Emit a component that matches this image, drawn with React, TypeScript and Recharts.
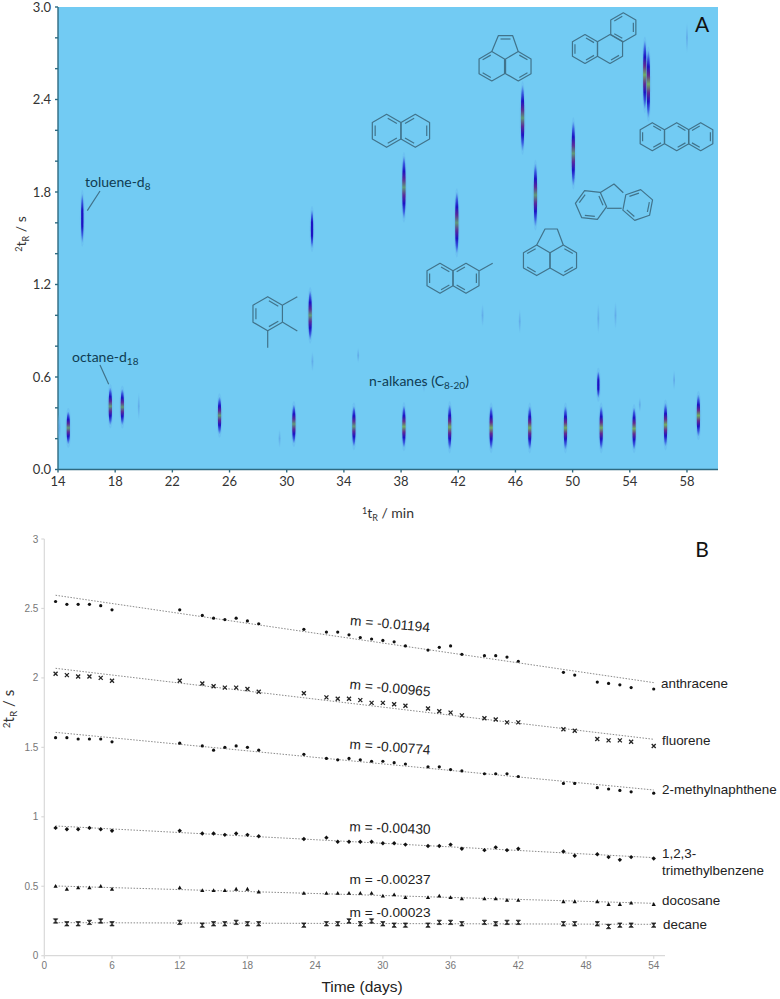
import React from "react";
import { ScatterChart, Scatter, XAxis, YAxis, CartesianGrid } from "recharts";

// panel A: GCxGC peaks (first dimension min, second dimension s, vertical extent s, colour level)
const peakFirst = [14.1, 14.72, 15.7, 17.66, 18.5, 19.65, 25.3, 30.5, 31.64, 31.77, 34.7, 38.2, 38.2, 41.4, 41.9, 44.3, 46.5, 47, 47.4, 49.5, 50.05, 51.8, 52, 54.3, 55.05, 55.3, 56.5, 58.8, 29.5, 31.8, 35, 46.3, 53, 51.8, 57.1, 54.7, 58, 43.7, 39.6];
const peakSecond = [0.27, 0.27, 1.63, 0.41, 0.405, 0.41, 0.35, 0.295, 1.0, 1.56, 0.28, 1.83, 0.278, 0.275, 1.6, 0.27, 2.28, 0.27, 1.78, 0.27, 2.05, 0.55, 0.27, 0.265, 2.56, 2.5, 0.29, 0.35, 0.2, 0.7, 0.74, 0.96, 1.0, 0.98, 0.58, 0.42, 2.8, 1.0, 0.55];
const peakSpan = [0.2, 0.22, 0.33, 0.25, 0.24, 0.18, 0.25, 0.26, 0.33, 0.26, 0.27, 0.42, 0.28, 0.3, 0.41, 0.29, 0.44, 0.29, 0.42, 0.29, 0.43, 0.18, 0.29, 0.28, 0.46, 0.45, 0.29, 0.28, 0.12, 0.13, 0.1, 0.16, 0.18, 0.2, 0.13, 0.1, 0.2, 0.15, 0.1];
const peakLevel = [0, 2, 1, 2, 2, 0, 2, 2, 2, 1, 2, 2, 3, 3, 2, 3, 2, 3, 2, 3, 2, 1, 3, 3, 3, 3, 3, 3, 0, 0, 0, 0, 0, 0, 0, 0, 0, 0, 0];

const firstTicks = [14, 18, 22, 26, 30, 34, 38, 42, 46, 50, 54, 58];
const secondTicks = [0, 0.2, 0.4, 0.6, 0.8, 1, 1.2, 1.4, 1.6, 1.8, 2, 2.2, 2.4, 2.6, 2.8, 3];

// panel B: retention drift over time
const days = [1, 2, 3, 4, 5, 6, 12, 14, 15, 16, 17, 18, 19, 23, 25, 26, 27, 28, 29, 30, 31, 32, 34, 35, 36, 37, 39, 40, 41, 42, 46, 47, 49, 50, 51, 52, 54];
const anthracene = [2.55, 2.53, 2.53, 2.53, 2.52, 2.49, 2.49, 2.45, 2.43, 2.42, 2.43, 2.41, 2.39, 2.35, 2.33, 2.33, 2.31, 2.29, 2.28, 2.27, 2.26, 2.23, 2.2, 2.22, 2.23, 2.17, 2.16, 2.16, 2.15, 2.12, 2.04, 2.02, 1.97, 1.96, 1.95, 1.93, 1.92];
const fluorene = [2.03, 2.02, 2.01, 2.01, 2.0, 1.98, 1.98, 1.96, 1.94, 1.93, 1.93, 1.92, 1.9, 1.89, 1.86, 1.85, 1.85, 1.84, 1.82, 1.82, 1.81, 1.8, 1.78, 1.76, 1.75, 1.73, 1.71, 1.7, 1.68, 1.68, 1.63, 1.62, 1.56, 1.55, 1.55, 1.54, 1.51];
const methylnaphthene = [1.57, 1.57, 1.56, 1.56, 1.56, 1.54, 1.53, 1.51, 1.48, 1.5, 1.51, 1.5, 1.48, 1.45, 1.42, 1.41, 1.42, 1.41, 1.4, 1.4, 1.39, 1.38, 1.36, 1.36, 1.34, 1.33, 1.31, 1.31, 1.31, 1.29, 1.24, 1.24, 1.21, 1.2, 1.19, 1.18, 1.17];
const trimethylbenzene = [0.92, 0.91, 0.91, 0.92, 0.91, 0.9, 0.9, 0.88, 0.88, 0.87, 0.88, 0.87, 0.86, 0.84, 0.85, 0.82, 0.82, 0.82, 0.82, 0.81, 0.81, 0.8, 0.79, 0.79, 0.8, 0.77, 0.76, 0.78, 0.76, 0.77, 0.75, 0.72, 0.73, 0.71, 0.69, 0.71, 0.7];
const docosane = [0.5, 0.48, 0.49, 0.49, 0.5, 0.48, 0.49, 0.47, 0.47, 0.47, 0.48, 0.48, 0.46, 0.45, 0.45, 0.45, 0.45, 0.45, 0.45, 0.43, 0.44, 0.42, 0.42, 0.43, 0.42, 0.41, 0.41, 0.41, 0.4, 0.4, 0.39, 0.39, 0.39, 0.37, 0.37, 0.38, 0.37];
const decane = [0.25, 0.23, 0.23, 0.24, 0.25, 0.23, 0.24, 0.22, 0.23, 0.23, 0.24, 0.23, 0.23, 0.22, 0.23, 0.23, 0.25, 0.23, 0.25, 0.23, 0.22, 0.22, 0.22, 0.24, 0.24, 0.23, 0.24, 0.23, 0.24, 0.24, 0.23, 0.23, 0.23, 0.21, 0.22, 0.22, 0.22];

const trendDays = [1, 54];
const anthraceneTrend = [2.595, 1.966];
const fluoreneTrend = [2.069, 1.558];
const methylTrend = [1.608, 1.193];
const trimethylTrend = [0.934, 0.706];
const docosaneTrend = [0.502, 0.377];
const decaneTrend = [0.238, 0.226];

const dayTicks = [0, 6, 12, 18, 24, 30, 36, 42, 48, 54];
const driftTicks = [0, 0.5, 1, 1.5, 2, 2.5, 3];

const peaks = peakFirst.map((x, i) => ({ x, y: peakSecond[i], span: peakSpan[i], level: peakLevel[i] }));
const toPoints = (values: number[]) => days.map((day, i) => ({ day, value: values[i] }));
const toTrend = (values: number[]) => trendDays.map((day, i) => ({ day, value: values[i] }));

const AXIS_A = "#2f6a80";
const BG_A = "#72cbf3";
const INK_A = "#0f3c52";
const STRUCT = "#41738b";
const GREY = "#d9d9d9";
const PX_PER_SECOND = 462.5 / 3;

const Peak = (props: any) => {
  const { cx, cy, payload } = props;
  const ry = (payload.span * PX_PER_SECOND) / 2;
  const rx = payload.level === 0 ? 0.9 : payload.level === 1 ? 1.2 : 1.7;
  return (
    <g style={{ filter: "blur(0.4px)" }}>
      {payload.level > 0 && <ellipse cx={cx} cy={cy} rx={rx + 1.2} ry={ry + 3} fill="#4f8fe8" opacity={0.16} />}
      <ellipse cx={cx} cy={cy} rx={rx} ry={ry} fill={`url(#peak${payload.level})`} />
    </g>
  );
};

const Dot = ({ cx, cy }: any) => <circle cx={cx} cy={cy} r={1.6} fill="#111" />;
const Cross = ({ cx, cy }: any) => (
  <path d={`M${cx - 2} ${cy - 2}L${cx + 2} ${cy + 2}M${cx + 2} ${cy - 2}L${cx - 2} ${cy + 2}`} stroke="#222" strokeWidth={1.3} fill="none" />
);
const Plus = ({ cx, cy }: any) => (
  <path d={`M${cx} ${cy - 2.2}L${cx + 2.2} ${cy}L${cx} ${cy + 2.2}L${cx - 2.2} ${cy}Z`} fill="#111" />
);
const Tri = ({ cx, cy }: any) => <path d={`M${cx} ${cy - 2.2}L${cx + 2.1} ${cy + 1.6}L${cx - 2.1} ${cy + 1.6}Z`} fill="#111" />;
const Bow = ({ cx, cy }: any) => (
  <path d={`M${cx - 2.2} ${cy - 2.2}H${cx + 2.2}L${cx - 2.2} ${cy + 2.2}H${cx + 2.2}Z`} fill="#222" stroke="#222" strokeWidth={0.7} />
);
const NoMark = () => <g />;

const hex = (cx: number, cy: number, r: number, start: number) =>
  [0, 1, 2, 3, 4, 5].map((i) => {
    const a = ((start + 60 * i) * Math.PI) / 180;
    return [cx + r * Math.cos(a), cy + r * Math.sin(a)];
  });

const Ring = ({ cx, cy, r, start = -90, doubles = [] }: any) => {
  const pts = hex(cx, cy, r, start);
  const inner = hex(cx, cy, r * 0.8, start);
  return (
    <g>
      <polygon points={pts.map((p) => p.join(",")).join(" ")} />
      {doubles.map((e: number) => {
        const a = inner[e];
        const b = inner[(e + 1) % 6];
        return <line key={e} x1={a[0] + (b[0] - a[0]) * 0.1} y1={a[1] + (b[1] - a[1]) * 0.1} x2={b[0] - (b[0] - a[0]) * 0.1} y2={b[1] - (b[1] - a[1]) * 0.1} />;
      })}
    </g>
  );
};

const rings = [
  // naphthalene
  { cx: 386.6, cy: 130.8, r: 16.5, doubles: [4, 0, 2] },
  { cx: 415.3, cy: 130.8, r: 16.5, doubles: [1, 3, 5] },
  // acenaphthylene
  { cx: 491.8, cy: 66.3, r: 14.7, doubles: [5, 3] },
  { cx: 518.3, cy: 66.3, r: 14.7, doubles: [0, 2] },
  // phenanthrene
  { cx: 585, cy: 49, r: 14.5, doubles: [4, 0, 2] },
  { cx: 610, cy: 49, r: 14.5, doubles: [2] },
  { cx: 623.3, cy: 27.3, r: 14.5, doubles: [5, 1, 3] },
  // anthracene
  { cx: 652.3, cy: 136.7, r: 14, doubles: [4, 0, 2] },
  { cx: 676.7, cy: 136.7, r: 14, doubles: [0, 2] },
  { cx: 700.7, cy: 136.7, r: 14, doubles: [1, 3, 5] },
  // fluorene
  { cx: 591, cy: 205, r: 15.7, start: -54, doubles: [0, 2, 4] },
  { cx: 637.7, cy: 205, r: 15.7, start: -19, doubles: [0, 2, 4] },
  // acenaphthene
  { cx: 536.7, cy: 260.3, r: 15.3, doubles: [5, 3] },
  { cx: 563.3, cy: 260.3, r: 15.3, doubles: [0, 2] },
  // 2-methylnaphthalene
  { cx: 440, cy: 278.3, r: 15, doubles: [4, 0, 2] },
  { cx: 466, cy: 278.3, r: 15, doubles: [1, 3, 5] },
  // 1,2,3-trimethylbenzene
  { cx: 267.7, cy: 313.7, r: 17, doubles: [4, 0, 2] },
];

const bonds = [
  "M491.7 51.7L498.3 35.7H512.7L518.3 51.7",
  "M500.5 39H510.5",
  "M600 192.7L614 184L623.3 192.7",
  "M606.7 208.3H621.7",
  "M536.7 245L545 229H557.3L563.3 245",
  "M479.3 270.7L492.7 263.3",
  "M282.7 305L297.3 296.7",
  "M282.7 322.3L297.3 331",
  "M267.7 330.7V347.7",
];

const slopes = [
  { text: "m = -0.01194", y: 625, rot: 5 },
  { text: "m = -0.00965", y: 689, rot: 5.5 },
  { text: "m = -0.00774", y: 748, rot: 4 },
  { text: "m = -0.00430", y: 829, rot: 2 },
  { text: "m = -0.00237", y: 880, rot: 0 },
  { text: "m = -0.00023", y: 913, rot: 0 },
];

const names = [
  { text: "anthracene", x: 661, y: 684 },
  { text: "fluorene", x: 662, y: 741 },
  { text: "2-methylnaphthene", x: 662, y: 790 },
  { text: "1,2,3-", x: 662, y: 854 },
  { text: "trimethylbenzene", x: 662, y: 871 },
  { text: "docosane", x: 662, y: 901 },
  { text: "decane", x: 663, y: 925 },
];

const gradStops = (core: string[]) => {
  const seq = ["#72cbf3", "#3a5fe0", "#1c12c4", ...core, "#1c12c4", "#3a5fe0", "#72cbf3"];
  return seq.map((c, i) => <stop key={i} offset={i / (seq.length - 1)} stopColor={c} />);
};

const Overlay = () => (
  <svg width={780} height={999} style={{ position: "absolute", left: 0, top: 0, pointerEvents: "none" }}>
    <defs>
      <linearGradient id="peak0" x1="0" y1="0" x2="0" y2="1">
        <stop offset="0" stopColor="#72cbf3" />
        <stop offset="0.5" stopColor="#62ace9" />
        <stop offset="1" stopColor="#72cbf3" />
      </linearGradient>
      <linearGradient id="peak1" x1="0" y1="0" x2="0" y2="1">{gradStops(["#1c12c4"])}</linearGradient>
      <linearGradient id="peak2" x1="0" y1="0" x2="0" y2="1">{gradStops(["#5a2a9a", "#5f9a78", "#5a2a9a"])}</linearGradient>
      <linearGradient id="peak3" x1="0" y1="0" x2="0" y2="1">{gradStops(["#642a90", "#6fae62", "#642a90"])}</linearGradient>
    </defs>

    <g fill="none" stroke={STRUCT} strokeWidth={1.2} strokeLinejoin="round">
      {rings.map((r, i) => <Ring key={i} {...r} />)}
      {bonds.map((d, i) => <path key={i} d={d} />)}
      <path d="M100 191L87.3 210.7M100 365L108.7 384.3" />
    </g>

    <g fontFamily="Lato" fontSize={14} fill={INK_A}>
      <text x={85} y={187}>toluene-d<tspan fontSize={10} dy={3}>8</tspan></text>
      <text x={72} y={362}>octane-d<tspan fontSize={10} dy={3}>18</tspan></text>
      <text x={369} y={386}>n-alkanes (C<tspan fontSize={10} dy={3}>8-20</tspan><tspan dy={-3}>)</tspan></text>
      <text x={702} y={32} fontSize={21} textAnchor="middle" fill="#111">A</text>
      <text x={702} y={557} fontSize={21} textAnchor="middle" fill="#111">B</text>
      <text x={388} y={518} textAnchor="middle" fill="#333" fontSize={14}>
        <tspan fontSize={9} dy={-4}>1</tspan><tspan dy={4}>t</tspan><tspan fontSize={9} dy={3}>R</tspan><tspan dy={-3}> / min</tspan>
      </text>
      <text transform="translate(26 234) rotate(-90)" textAnchor="middle" fill="#333" fontSize={14}>
        <tspan fontSize={9} dy={-4}>2</tspan><tspan dy={4}>t</tspan><tspan fontSize={9} dy={3}>R</tspan><tspan dy={-3}> / s</tspan>
      </text>
      <text transform="translate(14 709) rotate(-90)" textAnchor="middle" fill="#333" fontSize={15}>
        <tspan fontSize={10} dy={-4}>2</tspan><tspan dy={4}>t</tspan><tspan fontSize={10} dy={3}>R</tspan><tspan dy={-3}> / s</tspan>
      </text>
    </g>

    <g fontFamily="Liberation Sans" fill="#222">
      {slopes.map((s) => (
        <text key={s.text} x={390} y={s.y} fontSize={13.7} textAnchor="middle" dominantBaseline="middle" transform={`rotate(${s.rot} 390 ${s.y})`}>{s.text}</text>
      ))}
      {names.map((n) => (
        <text key={n.text} x={n.x} y={n.y} fontSize={13.4} dominantBaseline="middle">{n.text}</text>
      ))}
      <text x={362} y={992} fontSize={15.5} textAnchor="middle">Time (days)</text>
    </g>
  </svg>
);

const PanelA = () => (
  <ScatterChart width={780} height={530} margin={{ top: 7, right: 62, bottom: 0, left: 0 }} style={{ position: "absolute", left: 0, top: 0 }}>
    <CartesianGrid horizontal={false} vertical={false} fill={BG_A} stroke="none" />
    <XAxis
      type="number"
      dataKey="x"
      domain={[14, 60.17]}
      ticks={firstTicks}
      interval={0}
      height={60.5}
      stroke={AXIS_A}
      strokeWidth={1.4}
      tickSize={3}
      tickMargin={4}
      tick={{ fill: "#333", fontFamily: "Lato", fontSize: 13 }}
    />
    <YAxis
      type="number"
      dataKey="y"
      domain={[0, 3]}
      ticks={secondTicks}
      interval={0}
      width={58}
      stroke={AXIS_A}
      strokeWidth={1.4}
      tickSize={3}
      tickMargin={4}
      tick={{ fill: "#333", fontFamily: "Lato", fontSize: 13 }}
      tickFormatter={(v: number) => (Math.round(v * 10) % 6 === 0 ? v.toFixed(1) : "")}
    />
    <Scatter data={peaks} shape={Peak} isAnimationActive={false} />
  </ScatterChart>
);

const markSeries = [
  { data: anthracene, trend: anthraceneTrend, shape: Dot },
  { data: fluorene, trend: fluoreneTrend, shape: Cross },
  { data: methylnaphthene, trend: methylTrend, shape: Dot },
  { data: trimethylbenzene, trend: trimethylTrend, shape: Plus },
  { data: docosane, trend: docosaneTrend, shape: Tri },
  { data: decane, trend: decaneTrend, shape: Bow },
];

const PanelB = () => (
  <ScatterChart width={780} height={469} margin={{ top: 9, right: 115, bottom: 0, left: 0 }} style={{ position: "absolute", left: 0, top: 530 }}>
    <XAxis
      type="number"
      dataKey="day"
      domain={[0, 55]}
      ticks={dayTicks}
      interval={0}
      height={43.3}
      stroke={GREY}
      strokeWidth={1.2}
      tickSize={3}
      tickMargin={3}
      tick={{ fill: "#777", fontFamily: "Liberation Sans", fontSize: 10 }}
    />
    <YAxis
      type="number"
      dataKey="value"
      domain={[0, 3]}
      ticks={driftTicks}
      interval={0}
      width={44.3}
      stroke={GREY}
      strokeWidth={1.2}
      tickSize={3}
      tickMargin={3}
      tick={{ fill: "#777", fontFamily: "Liberation Sans", fontSize: 10 }}
    />
    {markSeries.map((s, i) => (
      <Scatter
        key={"trend" + i}
        data={toTrend(s.trend)}
        shape={NoMark}
        line={{ stroke: "#8a8a8a", strokeWidth: 1, strokeDasharray: "1.5 1.5" }}
        isAnimationActive={false}
      />
    ))}
    {markSeries.map((s, i) => (
      <Scatter key={"marks" + i} data={toPoints(s.data)} shape={s.shape} isAnimationActive={false} />
    ))}
  </ScatterChart>
);

export default function App() {
  return (
    <div style={{ position: "absolute", left: 0, top: 0, width: 780, height: 999, background: "#fff", overflow: "hidden" }}>
      <PanelA />
      <PanelB />
      <Overlay />
    </div>
  );
}
